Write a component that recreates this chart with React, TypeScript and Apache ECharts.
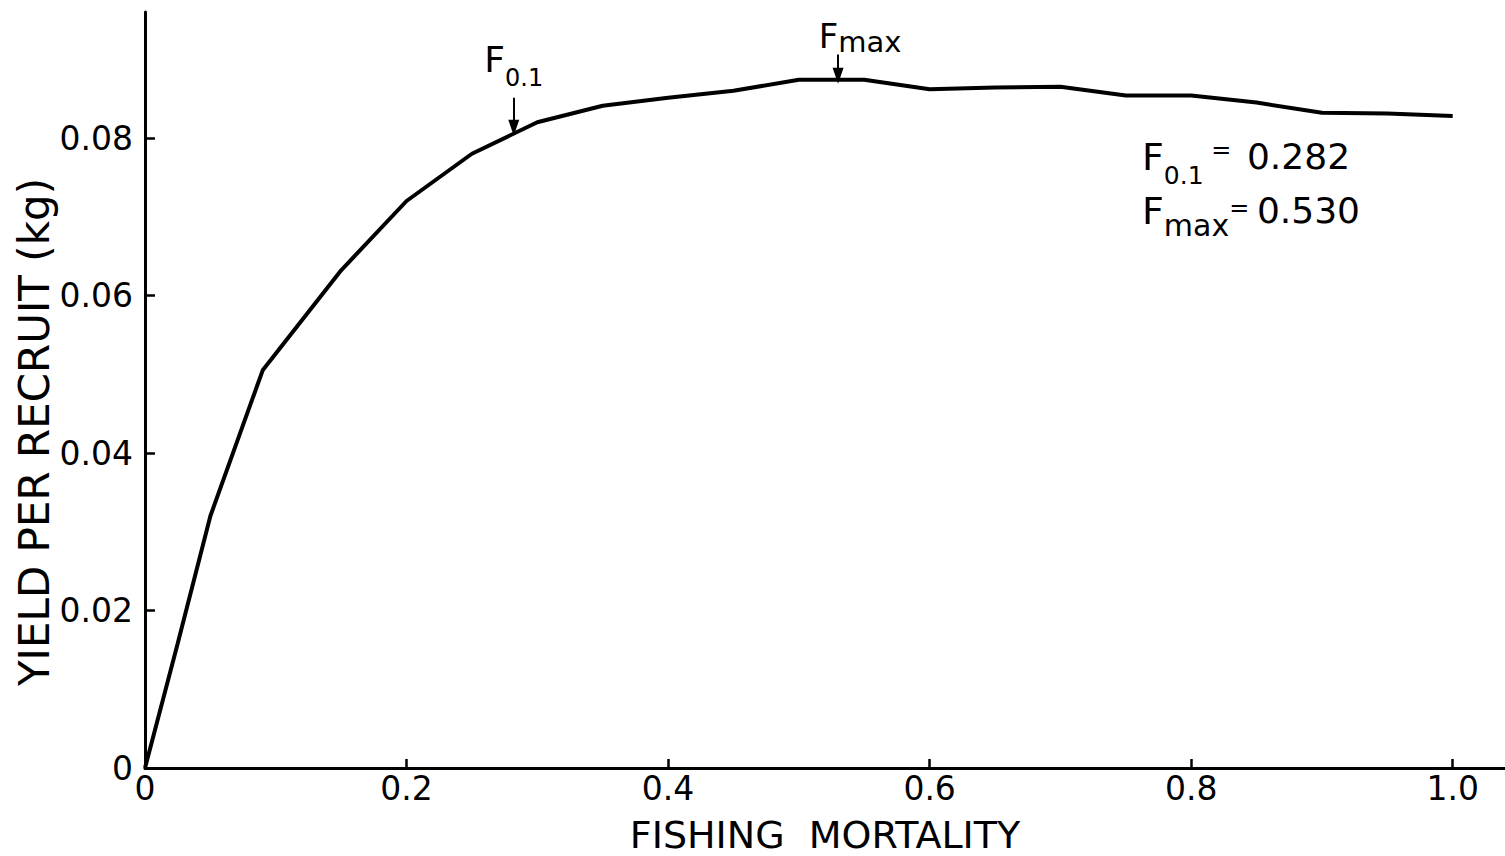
import React, { useEffect, useRef } from 'react';
import * as echarts from 'echarts';

// Yield per recruit (kg) against fishing mortality F
const fishingMortality = [0, 0.025, 0.05, 0.09, 0.15, 0.2, 0.25, 0.3, 0.35, 0.4, 0.45, 0.5, 0.55, 0.6, 0.65, 0.7, 0.75, 0.8, 0.85, 0.9, 0.95, 1.0];
const yieldPerRecruit = [0, 0.0158, 0.032, 0.0505, 0.0632, 0.072, 0.078, 0.082, 0.0841, 0.0851, 0.086, 0.0874, 0.0874, 0.0862, 0.0864, 0.0865, 0.0854, 0.0854, 0.0845, 0.0832, 0.0831, 0.0828];

const xTicks = [0, 0.2, 0.4, 0.6, 0.8, 1.0];
const yTicks = [0, 0.02, 0.04, 0.06, 0.08];

// Reference points on the curve
const F01 = 0.282;
const FMAX = 0.53;
// Arrow extents (yield, top -> tip) above the curve
const f01Arrow = [0.0851, 0.0813];
const fmaxArrow = [0.0906, 0.0879];

const FONT = 'DejaVu Sans';

export default function App() {
  const ref = useRef<HTMLDivElement>(null);

  useEffect(() => {
    if (!ref.current) return;
    const chart = echarts.init(ref.current, undefined, { renderer: 'svg' });

    const ink = { fontFamily: FONT, color: '#000' };

    chart.setOption({
      animation: false,
      backgroundColor: '#fff',
      grid: {
        left: 145,
        right: 0,
        top: 12,
        bottom: 88,
        containLabel: false,
        outerBoundsMode: 'none',
      },
      xAxis: {
        type: 'value',
        min: 0,
        max: 1.04,
        name: 'FISHING  MORTALITY',
        nameLocation: 'middle',
        nameGap: 48,
        nameTextStyle: { fontFamily: FONT, fontSize: 38, color: '#000' },
        splitLine: { show: false },
        axisLine: { lineStyle: { color: '#000', width: 3 } },
        axisTick: { inside: true, length: 9, lineStyle: { color: '#000', width: 2.5 }, customValues: xTicks },
        axisLabel: {
          customValues: xTicks,
          margin: 4,
          fontFamily: FONT,
          fontSize: 33,
          color: '#000',
          formatter: (v: number) => (v === 0 ? '0' : v.toFixed(1)),
        },
      },
      yAxis: {
        type: 'value',
        min: 0,
        max: 0.096,
        splitLine: { show: false },
        axisLine: { lineStyle: { color: '#000', width: 3 } },
        axisTick: { inside: true, length: 10, lineStyle: { color: '#000', width: 2.5 }, customValues: yTicks },
        axisLabel: {
          customValues: yTicks,
          margin: 12,
          fontFamily: FONT,
          fontSize: 33,
          color: '#000',
          formatter: (v: number) => (v === 0 ? '0' : v.toFixed(2)),
        },
      },
      graphic: [
        {
          type: 'text',
          x: 34,
          y: 432,
          rotation: Math.PI / 2,
          style: {
            text: 'YIELD PER RECRUIT (kg)',
            fontFamily: FONT,
            fontSize: 42,
            fill: '#000',
            align: 'center',
            verticalAlign: 'middle',
          },
        },
        {
          type: 'text',
          x: 1142,
          y: 138,
          style: {
            text: '{F|F}{s|0.1}{e| = }{v|0.282}',
            fontFamily: FONT,
            fill: '#000',
            verticalAlign: 'top',
            rich: {
              F: { ...ink, fontSize: 38, verticalAlign: 'top' },
              s: { ...ink, fontSize: 25, lineHeight: 50, verticalAlign: 'bottom' },
              e: { ...ink, fontSize: 24, verticalAlign: 'top' },
              v: { ...ink, fontSize: 36, padding: [0, 0, 0, 8], verticalAlign: 'top' },
            },
          },
        },
        {
          type: 'text',
          x: 1142,
          y: 192,
          style: {
            text: '{F|F}{m|max}{e|= }{v|0.530}',
            fontFamily: FONT,
            fill: '#000',
            verticalAlign: 'top',
            rich: {
              F: { ...ink, fontSize: 38, verticalAlign: 'top' },
              m: { ...ink, fontSize: 30, lineHeight: 48, verticalAlign: 'bottom' },
              e: { ...ink, fontSize: 24, padding: [4, 0, 0, 0], verticalAlign: 'top' },
              v: { ...ink, fontSize: 36, verticalAlign: 'top' },
            },
          },
        },
      ],
      series: [
        {
          type: 'line',
          data: fishingMortality.map((f, i) => [f, yieldPerRecruit[i]]),
          symbol: 'none',
          smooth: false,
          lineStyle: { color: '#000', width: 4 },
          silent: true,
          markLine: {
            silent: true,
            symbol: ['none', 'triangle'],
            symbolSize: [11, 16],
            lineStyle: { color: '#000', width: 2, type: 'solid' },
            emphasis: { disabled: true },
            data: [
              [
                {
                  coord: [F01, f01Arrow[0]],
                  label: {
                    show: true,
                    position: 'start',
                    distance: 8,
                    formatter: '{F|F}{s|0.1}',
                    rich: {
                      F: { ...ink, fontSize: 36, verticalAlign: 'top' },
                      s: { ...ink, fontSize: 24, lineHeight: 48, verticalAlign: 'bottom' },
                    },
                  },
                },
                { coord: [F01, f01Arrow[1]] },
              ],
              [
                {
                  coord: [FMAX, fmaxArrow[0]],
                  label: {
                    show: true,
                    position: 'start',
                    distance: -2,
                    padding: [0, 0, 0, 44],
                    formatter: '{F|F}{m|max}',
                    rich: {
                      F: { ...ink, fontSize: 34, verticalAlign: 'top' },
                      m: { ...ink, fontSize: 29, lineHeight: 38, verticalAlign: 'bottom' },
                    },
                  },
                },
                { coord: [FMAX, fmaxArrow[1]] },
              ],
            ],
          },
        },
      ],
    });

    return () => chart.dispose();
  }, []);

  return (
    <div
      ref={ref}
      style={{ position: 'fixed', left: 0, top: 0, width: 1505, height: 856, background: '#fff' }}
    />
  );
}
